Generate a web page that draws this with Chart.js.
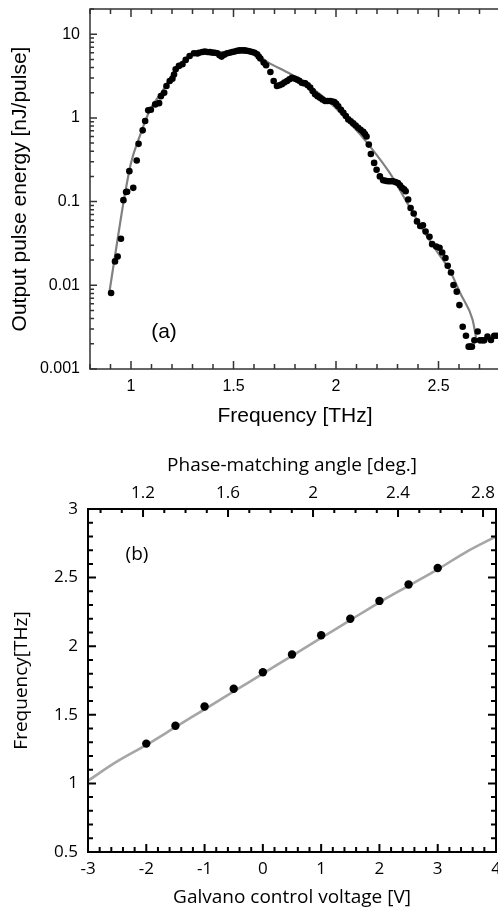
<!DOCTYPE html>
<html>
<head>
<meta charset="utf-8">
<script src="https://cdn.jsdelivr.net/npm/chart.js@4.4.0/dist/chart.umd.min.js"></script>
<style>
  html, body { margin: 0; padding: 0; background: #fff; overflow: hidden; }
  #wrap { position: relative; width: 498px; height: 910px; overflow: hidden; }
  #chartA { position: absolute; left: 0; top: 0; }
  #chartB { position: absolute; left: 0; top: 440px; }
</style>
</head>
<body>
<div id="wrap">
  <canvas id="chartA" width="520" height="440"></canvas>
  <canvas id="chartB" width="520" height="470"></canvas>
</div>
<script>
// (a) measured output pulse energy [nJ/pulse] vs frequency [THz]
const freqA = [0.903, 0.922, 0.935, 0.951, 0.963, 0.976, 0.981, 0.992, 1.011, 1.028, 1.037, 1.057, 1.069, 1.084, 1.097,
  1.118, 1.137, 1.146, 1.162, 1.173, 1.189, 1.202, 1.210, 1.218, 1.234, 1.251, 1.267, 1.286, 1.307, 1.324,
  1.332, 1.348, 1.360, 1.372, 1.385, 1.397, 1.409, 1.421, 1.432, 1.442, 1.455, 1.469, 1.481, 1.494, 1.506,
  1.518, 1.530, 1.542, 1.554, 1.566, 1.578, 1.591, 1.603, 1.615, 1.623, 1.631, 1.647, 1.659, 1.680, 1.696,
  1.712, 1.724, 1.736, 1.748, 1.761, 1.773, 1.785, 1.797, 1.809, 1.821, 1.833, 1.842, 1.850, 1.862, 1.874,
  1.886, 1.898, 1.910, 1.922, 1.934, 1.947, 1.959, 1.971, 1.982, 1.992, 2.001, 2.011, 2.024, 2.036, 2.048,
  2.060, 2.072, 2.084, 2.096, 2.108, 2.120, 2.133, 2.141, 2.149, 2.160, 2.170, 2.186, 2.198, 2.214, 2.230,
  2.242, 2.254, 2.266, 2.278, 2.290, 2.302, 2.312, 2.322, 2.332, 2.340, 2.352, 2.364, 2.379, 2.395, 2.411,
  2.424, 2.437, 2.456, 2.469, 2.489, 2.505, 2.518, 2.534, 2.545, 2.561, 2.573, 2.589, 2.602, 2.618, 2.634,
  2.647, 2.655, 2.663, 2.675, 2.691, 2.702, 2.713, 2.723, 2.739, 2.756, 2.772, 2.785];
const energyA = [0.0081, 0.0193, 0.0221, 0.036, 0.104, 0.13, 0.131, 0.231, 0.146, 0.31, 0.49, 0.71, 0.92, 1.23, 1.25,
  1.45, 1.5, 1.82, 2.0, 2.4, 2.76, 2.94, 3.3, 3.81, 4.18, 4.38, 4.93, 5.5, 5.92, 5.9,
  6.0, 6.14, 6.2, 6.14, 6.1, 6.03, 6.0, 5.92, 5.6, 5.4, 5.7, 5.92, 6.0, 6.14, 6.2,
  6.34, 6.4, 6.43, 6.4, 6.34, 6.25, 6.14, 6.0, 5.75, 5.4, 5.12, 4.58, 4.25, 3.54, 2.76,
  2.4, 2.45, 2.52, 2.65, 2.76, 2.9, 3.01, 2.95, 2.88, 2.78, 2.63, 2.6, 2.59, 2.45, 2.3,
  2.1, 1.91, 1.82, 1.74, 1.66, 1.59, 1.59, 1.59, 1.57, 1.55, 1.47, 1.38, 1.25, 1.15, 1.05,
  0.96, 0.91, 0.86, 0.81, 0.76, 0.72, 0.68, 0.64, 0.60, 0.48, 0.37, 0.29, 0.24, 0.20, 0.18,
  0.177, 0.175, 0.175, 0.175, 0.171, 0.167, 0.157, 0.146, 0.14, 0.133, 0.106, 0.084, 0.072, 0.058, 0.051,
  0.052, 0.044, 0.038, 0.031, 0.029, 0.028, 0.0247, 0.0212, 0.0171, 0.0142, 0.0101, 0.0084, 0.0058, 0.0032, 0.0025,
  0.00185, 0.00185, 0.00185, 0.0022, 0.0028, 0.0022, 0.0022, 0.0022, 0.00244, 0.00222, 0.0025, 0.0025];
// (a) fitted curve
const fitFreq = [0.895, 0.93, 0.964, 1.0, 1.04, 1.09, 1.154, 1.218, 1.283, 1.34, 1.45, 1.55, 1.607, 1.671,
  1.78, 1.88, 1.971, 2.07, 2.165, 2.262, 2.35, 2.424, 2.49, 2.553, 2.61, 2.666, 2.683];
const fitEnergy = [0.0084, 0.03, 0.1, 0.29, 0.58, 1.21, 2.1, 3.8, 5.5, 6.1, 6.1, 6.0, 5.75, 4.58,
  3.32, 2.3, 1.52, 0.86, 0.46, 0.22, 0.094, 0.046, 0.026, 0.0153, 0.0077, 0.0039, 0.0024];
const freqTicksA = [1, 1.5, 2, 2.5];
const energyTicks = [0.001, 0.01, 0.1, 1, 10];
const energyTickLabels = ['0.001', '0.01', '0.1', '1', '10'];

// (b) frequency vs galvano control voltage
const voltage = [-2, -1.5, -1, -0.5, 0, 0.5, 1, 1.5, 2, 2.5, 3];
const freqB = [1.29, 1.42, 1.56, 1.69, 1.81, 1.94, 2.08, 2.20, 2.33, 2.45, 2.57];
// (b) calibration curve
const calVoltage = [-3, -2.5, -2, -1.5, -1, -0.5, 0, 0.5, 1, 1.5, 2, 2.5, 3, 3.5, 4];
const calFreq = [1.02, 1.16, 1.28, 1.41, 1.54, 1.67, 1.80, 1.93, 2.06, 2.19, 2.32, 2.44, 2.56, 2.69, 2.80];
const voltTicks = [-3, -2, -1, 0, 1, 2, 3, 4];
const freqTicksB = [0.5, 1, 1.5, 2, 2.5, 3];
const angleTicks = [1.2, 1.6, 2, 2.4, 2.8];
const angleTickLabels = ['1.2', '1.6', '2', '2.4', '2.8'];

function steps(from, to, div) {
  const out = [];
  for (let i = from; i <= to; i++) out.push(i / div);
  return out;
}
const near = (a, b) => Math.abs(a - b) < 1e-6;

// keep the plot box where we put it: no extra room for edge labels
function fixSize(prop, size) {
  return s => {
    s[prop] = size;
    s.paddingTop = 0; s.paddingBottom = 0; s.paddingLeft = 0; s.paddingRight = 0;
  };
}

// border + inward ticks drawn from the chart's own scales
function frame(id, color, width, sets, note) {
  return {
    id: id,
    afterDatasetsDraw(chart) {
      const ctx = chart.ctx;
      const a = chart.chartArea;
      ctx.save();
      ctx.strokeStyle = color;
      ctx.lineWidth = width;
      ctx.strokeRect(a.left, a.top, a.right - a.left, a.bottom - a.top);
      ctx.beginPath();
      sets.forEach(set => {
        const scale = chart.scales[set.scale];
        set.values.forEach(v => {
          const p = scale.getPixelForValue(v);
          const len = set.isMajor(v) ? set.major : set.minor;
          set.sides.forEach(side => {
            if (side === 'bottom') { ctx.moveTo(p, a.bottom); ctx.lineTo(p, a.bottom - len); }
            if (side === 'top') { ctx.moveTo(p, a.top); ctx.lineTo(p, a.top + len); }
            if (side === 'left') { ctx.moveTo(a.left, p); ctx.lineTo(a.left + len, p); }
            if (side === 'right') { ctx.moveTo(a.right, p); ctx.lineTo(a.right - len, p); }
          });
        });
      });
      ctx.stroke();
      ctx.fillStyle = '#000';
      ctx.font = note.font;
      ctx.textAlign = 'center';
      ctx.textBaseline = 'middle';
      ctx.fillText(note.text, a.left + note.dx, note.fromBottom ? a.bottom - note.dy : a.top + note.dy);
      ctx.restore();
    }
  };
}

const fontA = 'Liberation Sans, Arial, sans-serif';
const fontB = 'Open Sans, Noto Sans, sans-serif';

// log minor tick positions
const logMinor = [];
energyTicks.forEach(d => { for (let m = 1; m <= 9; m++) if (m * d <= 20) logMinor.push(m * d); });

new Chart(document.getElementById('chartA'), {
  type: 'scatter',
  data: {
    datasets: [
      {
        data: freqA.map((f, i) => ({ x: f, y: energyA[i] })),
        backgroundColor: '#000',
        borderWidth: 0,
        pointRadius: 3.3,
        order: 0
      },
      {
        type: 'line',
        data: fitFreq.map((f, i) => ({ x: f, y: fitEnergy[i] })),
        borderColor: '#808080',
        borderWidth: 2.2,
        pointRadius: 0,
        cubicInterpolationMode: 'monotone',
        fill: false,
        order: 1
      }
    ]
  },
  options: {
    responsive: false,
    animation: false,
    devicePixelRatio: 1,
    layout: { padding: { top: 9, left: 0, right: 20, bottom: 0 } },
    plugins: { legend: { display: false }, tooltip: { enabled: false } },
    scales: {
      x: {
        type: 'linear', min: 0.8, max: 2.8,
        grid: { display: false, drawTicks: false },
        border: { display: false },
        afterBuildTicks: s => { s.ticks = freqTicksA.map(v => ({ value: v })); },
        afterFit: fixSize('height', 71),
        ticks: { padding: 8, color: '#000', maxRotation: 0, autoSkip: false,
          font: { family: fontA, size: 16 }, callback: v => String(v) },
        title: { display: true, text: 'Frequency [THz]', color: '#000',
          font: { family: fontA, size: 21 }, padding: { top: 0, bottom: 11 } }
      },
      y: {
        type: 'logarithmic', min: 0.001, max: 20,
        grid: { display: false, drawTicks: false },
        border: { display: false },
        afterBuildTicks: s => { s.ticks = energyTicks.map(v => ({ value: v })); },
        afterFit: fixSize('width', 90),
        ticks: { padding: 10, color: '#000', autoSkip: false,
          font: { family: fontA, size: 16 }, callback: (v, i) => energyTickLabels[i] },
        title: { display: true, text: 'Output pulse energy [nJ/pulse]', color: '#000',
          font: { family: fontA, size: 21 }, padding: { top: 8, bottom: 0 } }
      }
    }
  },
  plugins: [frame('frameA', '#333', 1.5, [
    { scale: 'x', values: steps(8, 28, 10), isMajor: v => near(v * 2, Math.round(v * 2)), major: 8, minor: 5, sides: ['bottom', 'top'] },
    { scale: 'y', values: logMinor, isMajor: v => near(Math.log10(v), Math.round(Math.log10(v))), major: 7, minor: 4, sides: ['left'] }
  ], { text: '(a)', font: '21px ' + fontA, dx: 74, dy: 37, fromBottom: true })]
});

new Chart(document.getElementById('chartB'), {
  type: 'scatter',
  data: {
    datasets: [
      {
        data: voltage.map((v, i) => ({ x: v, y: freqB[i] })),
        backgroundColor: '#000',
        borderWidth: 0,
        pointRadius: 4.2,
        order: 0
      },
      {
        type: 'line',
        data: calVoltage.map((v, i) => ({ x: v, y: calFreq[i] })),
        borderColor: '#a6a6a6',
        borderWidth: 2.6,
        pointRadius: 0,
        tension: 0.3,
        fill: false,
        order: 1
      }
    ]
  },
  options: {
    responsive: false,
    animation: false,
    devicePixelRatio: 1,
    layout: { padding: { top: 0, left: 0, right: 24, bottom: 0 } },
    plugins: { legend: { display: false }, tooltip: { enabled: false } },
    scales: {
      x: {
        type: 'linear', position: 'bottom', min: -3, max: 4,
        grid: { display: false, drawTicks: false },
        border: { display: false },
        afterBuildTicks: s => { s.ticks = voltTicks.map(v => ({ value: v })); },
        afterFit: fixSize('height', 58),
        ticks: { padding: 7, color: '#000', maxRotation: 0, autoSkip: false,
          font: { family: fontB, size: 17 }, callback: v => String(v) },
        title: { display: true, text: 'Galvano control voltage [V]', color: '#000',
          font: { family: fontB, size: 19 }, padding: { top: 0, bottom: 1 } }
      },
      x2: {
        type: 'linear', position: 'top', min: 0.941, max: 2.861,
        grid: { display: false, drawTicks: false },
        border: { display: false },
        afterBuildTicks: s => { s.ticks = angleTicks.map(v => ({ value: v })); },
        afterFit: fixSize('height', 69),
        ticks: { padding: 6, color: '#000', maxRotation: 0, autoSkip: false,
          font: { family: fontB, size: 17 }, callback: (v, i) => angleTickLabels[i] },
        title: { display: true, text: 'Phase-matching angle [deg.]', color: '#000',
          font: { family: fontB, size: 19 }, padding: { top: 14, bottom: 0 } }
      },
      y: {
        type: 'linear', min: 0.5, max: 3,
        grid: { display: false, drawTicks: false },
        border: { display: false },
        afterBuildTicks: s => { s.ticks = freqTicksB.map(v => ({ value: v })); },
        afterFit: fixSize('width', 88),
        ticks: { padding: 10, color: '#000', autoSkip: false,
          font: { family: fontB, size: 17 }, callback: v => String(v) },
        title: { display: true, text: 'Frequency[THz]', color: '#000',
          font: { family: fontB, size: 19 }, padding: { top: 10, bottom: 0 } }
      }
    }
  },
  plugins: [frame('frameB', '#000', 2, [
    { scale: 'x', values: steps(-15, 20, 5), isMajor: v => near(v, Math.round(v)), major: 8, minor: 5, sides: ['bottom'] },
    { scale: 'x2', values: steps(10, 28, 10), isMajor: v => near((v * 10 - 12) % 4, 0), major: 8, minor: 4, sides: ['top'] },
    { scale: 'y', values: steps(5, 30, 10), isMajor: v => near(v * 2, Math.round(v * 2)), major: 8, minor: 5, sides: ['left', 'right'] }
  ], { text: '(b)', font: '19px ' + fontB, dx: 49, dy: 46, fromBottom: false })]
});
</script>
</body>
</html>
